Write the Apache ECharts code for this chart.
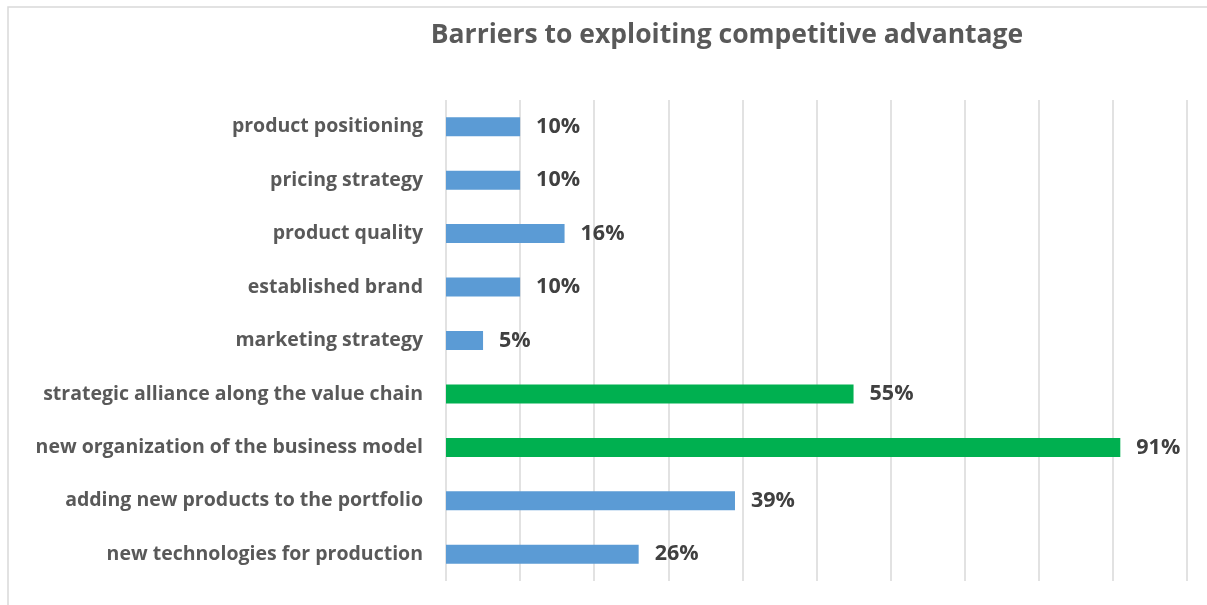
<!DOCTYPE html>
<html>
<head>
<meta charset="utf-8">
<script src="https://cdn.jsdelivr.net/npm/echarts@6/dist/echarts.min.js"></script>
<style>
  html, body { margin: 0; padding: 0; background: #fff; }
  #chart { width: 1207px; height: 605px; }
</style>
</head>
<body>
<div id="chart"></div>
<script>
// Barriers, listed top to bottom as shown
const categories = [
  'product positioning',
  'pricing strategy',
  'product quality',
  'established brand',
  'marketing strategy',
  'strategic alliance along the value chain',
  'new organization of the business model',
  'adding new products to the portfolio',
  'new technologies for production'
];
// Share of respondents (%)
const values = [10, 10, 16, 10, 5, 55, 91, 39, 26];
// Barriers drawn in the accent colour
const highlighted = [
  'strategic alliance along the value chain',
  'new organization of the business model'
];

const FONT = '"Open Sans", Lato, sans-serif';
const BLUE = '#5b9bd5';
const GREEN = '#00b050';

const chart = echarts.init(document.getElementById('chart'));
chart.setOption({
  backgroundColor: '#ffffff',
  animation: false,
  title: {
    text: 'Barriers to exploiting competitive advantage',
    left: 722,
    textAlign: 'center',
    top: 17,
    textStyle: { fontFamily: FONT, fontWeight: 'bold', fontSize: 26.5, color: '#595959' }
  },
  graphic: [{
    type: 'rect',
    shape: { x: 8, y: 7, width: 1230, height: 640 },
    style: { fill: 'none', stroke: '#d9d9d9', lineWidth: 1.5 },
    silent: true
  }],
  grid: { left: 446, right: 20, top: 100, bottom: 24, containLabel: false },
  xAxis: {
    type: 'value',
    min: 0,
    max: 100,
    interval: 10,
    axisLabel: { show: false },
    axisLine: { show: false },
    axisTick: { show: false },
    splitLine: { show: true, lineStyle: { color: '#d9d9d9', width: 1.5 } }
  },
  yAxis: {
    type: 'category',
    inverse: true,
    data: categories,
    axisLine: { show: false },
    axisTick: { show: false },
    axisLabel: {
      margin: 23,
      fontFamily: FONT,
      fontWeight: 'bold',
      fontSize: 19.5,
      color: '#595959'
    }
  },
  series: [{
    type: 'bar',
    barWidth: 19,
    data: values.map((v, i) => ({
      value: v,
      itemStyle: { color: highlighted.includes(categories[i]) ? GREEN : BLUE }
    })),
    label: {
      show: true,
      position: 'right',
      distance: 16,
      formatter: p => p.value + '%',
      fontFamily: FONT,
      fontWeight: 'bold',
      fontSize: 21.5,
      color: '#404040'
    }
  }]
});
</script>
</body>
</html>
